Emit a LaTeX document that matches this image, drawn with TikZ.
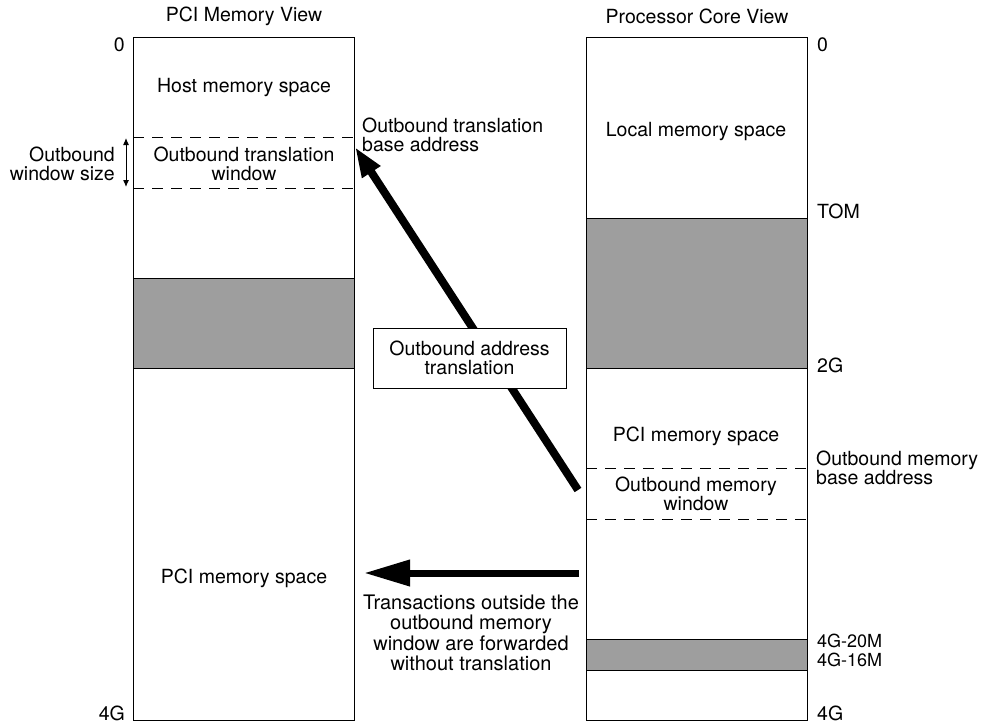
\documentclass[tikz,border=0pt]{standalone}
\usepackage{fontspec}
\setmainfont{TeX Gyre Heros}
\usetikzlibrary{arrows.meta}
\tikzset{
  lbl/.style={font=\fontsize{19.5}{19.5}\selectfont, inner sep=0pt, align=center},
  tightlbl/.style={font=\fontsize{18}{18}\selectfont, inner sep=0pt, text height=13pt, text depth=0pt, anchor=base west},
  memblock/.style={draw, line width=1.1pt, minimum width=221pt, minimum height=683pt, anchor=north west, inner sep=0pt},
  winline/.style={line width=0.9pt, dash pattern=on 11pt off 8pt},
  bigarrow/.style={line width=8pt, -{Triangle[length=30pt,width=20pt]}},
  fwdarrow/.style={line width=7pt, -{Triangle[length=46pt,width=25pt]}},
  sizearrow/.style={line width=1pt, {Latex[length=7pt,width=6pt]}-{Latex[length=7pt,width=6pt]}},
  xlatebox/.style={draw, fill=white, line width=1pt, minimum width=193pt, minimum height=60pt, inner sep=0pt, align=center, font=\fontsize{19.5}{19.5}\selectfont}
}
\begin{document}
\begin{tikzpicture}[x=1pt,y=-1pt]
\useasboundingbox (0,0) rectangle (990,723);
% left memory map
\fill[black!38] (133,278) rectangle (354,368);
\draw[line width=1pt] (133,278) -- (354,278) (133,368) -- (354,368);
\node[memblock] (pcimap) at (133,37) {};
\draw[winline] (133,137) -- (354,137);
\draw[winline] (133,188) -- (354,188);
% right memory map
\fill[black!38] (586,218) rectangle (807,368);
\draw[line width=1pt] (586,218) -- (807,218) (586,368) -- (807,368);
\fill[black!38] (586,639) rectangle (807,670);
\draw[line width=1pt] (586,639) -- (807,639) (586,670) -- (807,670);
\node[memblock] (coremap) at (586,37) {};
\draw[winline] (586,468) -- (807,468);
\draw[winline] (586,519) -- (807,519);

% titles
\node[lbl] (t1) at (244,16) {PCI Memory View};
\node[lbl] (t2) at (697,16) {Processor Core View};

% left labels
\node[lbl, anchor=east] (l0) at (125,45) {0};
\node[lbl, anchor=east] (l4g) at (125,713) {4G};
\node[lbl] (host) at (244,88) {Host memory space};
\node[lbl] (otw) at (244,164) {Outbound translation\\window};
\node[lbl, anchor=east, align=right] (ows) at (115,164) {Outbound\\window size};
\coordinate (wsTop) at (126,138);
\coordinate (wsBot) at (126,187);
\draw[sizearrow] (wsTop) -- (wsBot);
\node[lbl] (pcil) at (244,578) {PCI memory space};
\node[lbl, anchor=west, align=left] (otba) at (362,135) {Outbound translation\\base address};

% right labels
\node[lbl, anchor=west] (r0) at (817,45) {0};
\node[lbl] (local) at (696,132) {Local memory space};
\node[lbl, anchor=west] (tom) at (817,211) {TOM};
\node[lbl, anchor=west] (r2g) at (817,365) {2G};
\node[lbl] (pcir) at (696,436) {PCI memory space};
\node[lbl] (omw) at (696,494) {Outbound memory\\window};
\node[lbl, anchor=west, align=left] (omba) at (816,468) {Outbound memory\\base address};
\node[tightlbl] (r20) at (817,647) {4G-20M};
\node[tightlbl] (r16) at (817,666) {4G-16M};
\node[lbl, anchor=west] (r4g) at (817,713) {4G};

% arrows
\coordinate (xlTail) at (578,490);
\coordinate (xlTip) at (355,147);
\draw[bigarrow] (xlTail) -- (xlTip);
\node[xlatebox] (xlate) at (469.5,358) {Outbound address\\translation};
\coordinate (fwTail) at (579,573);
\coordinate (fwTip) at (364,573);
\draw[fwdarrow] (fwTail) -- (fwTip);
\node[lbl, font=\fontsize{20}{20.5}\selectfont] (fwtext) at (471,633) {Transactions outside the\\outbound memory\\window are forwarded\\without translation};
\end{tikzpicture}
\end{document}
